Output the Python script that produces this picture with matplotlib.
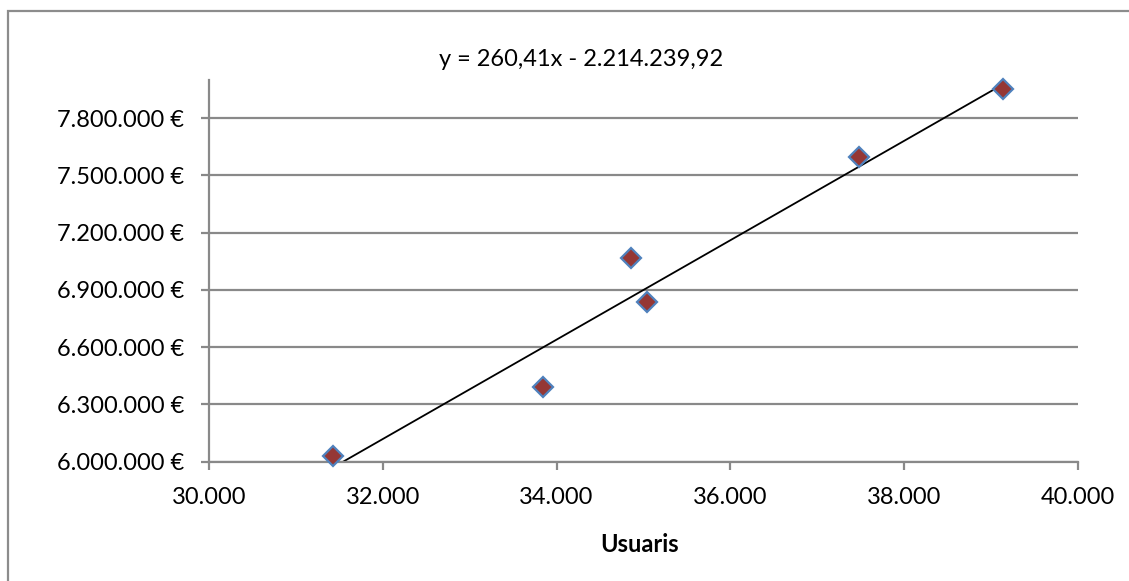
import matplotlib
matplotlib.use('Agg')
import matplotlib.pyplot as plt
from matplotlib.patches import Rectangle
from matplotlib.ticker import FuncFormatter
import numpy as np

# data
usuaris = [31430, 33840, 34853, 35037, 37476, 39140]
ingressos = [6030000, 6393000, 7068000, 6838000, 7597000, 7951000]
slope = 260.41
intercept = -2214239.92
equation = "y = 260,41x - 2.214.239,92"
x_title = "Usuaris"

x_ticks = [30000, 32000, 34000, 36000, 38000, 40000]
y_ticks = [6000000, 6300000, 6600000, 6900000, 7200000, 7500000, 7800000]

plt.rcParams['font.family'] = ['Lato', 'DejaVu Sans']

W, H = 1129, 581
fig = plt.figure(figsize=(W / 100, H / 100), dpi=100)
fig.patch.set_facecolor('white')

# chart border (cut off at right and bottom like the reference)
fig.add_artist(Rectangle((8 / W, -0.1), 1.2, 1 - 11 / H + 0.1,
                         transform=fig.transFigure, fill=False,
                         edgecolor='#8c8c8c', linewidth=1.6))

ax = fig.add_axes([209 / W, 1 - 461.7 / H, (1078 - 209) / W, (461.7 - 80) / H])
ax.set_xlim(30000, 40000)
ax.set_ylim(6000000, 8000000)

grid_col = '#898989'
for s in ['top', 'right']:
    ax.spines[s].set_visible(False)
for s in ['left', 'bottom']:
    ax.spines[s].set_color(grid_col)
    ax.spines[s].set_linewidth(1.6)

ax.set_xticks(x_ticks)
ax.set_yticks(y_ticks)
ax.xaxis.set_major_formatter(FuncFormatter(lambda v, p: f"{v:,.0f}".replace(',', '.')))
ax.yaxis.set_major_formatter(FuncFormatter(lambda v, p: f"{v:,.0f}".replace(',', '.') + " €"))
ax.tick_params(axis='both', direction='out', length=6, width=1.6, color=grid_col,
               labelsize=17, labelcolor='black')
ax.tick_params(axis='x', pad=12)
ax.tick_params(axis='y', pad=12)
ax.yaxis.grid(True, color=grid_col, linewidth=1.6)
ax.set_axisbelow(True)

# trendline from the equation
xs = np.array([min(usuaris), max(usuaris)])
ax.plot(xs, slope * xs + intercept, color='black', linewidth=1.3, zorder=2)

ax.plot(usuaris, ingressos, linestyle='none', marker='D', markersize=10,
        markerfacecolor='#953735', markeredgecolor='#4f81bd',
        markeredgewidth=1.6, zorder=3, clip_on=False)

fig.text(581 / W, 1 - 60 / H, equation, ha='center', va='center', fontsize=17)
fig.text(640 / W, 1 - 544 / H, x_title, ha='center', va='center',
         fontsize=17, fontweight='bold')

fig.savefig('out.png', dpi=100, facecolor='white')
